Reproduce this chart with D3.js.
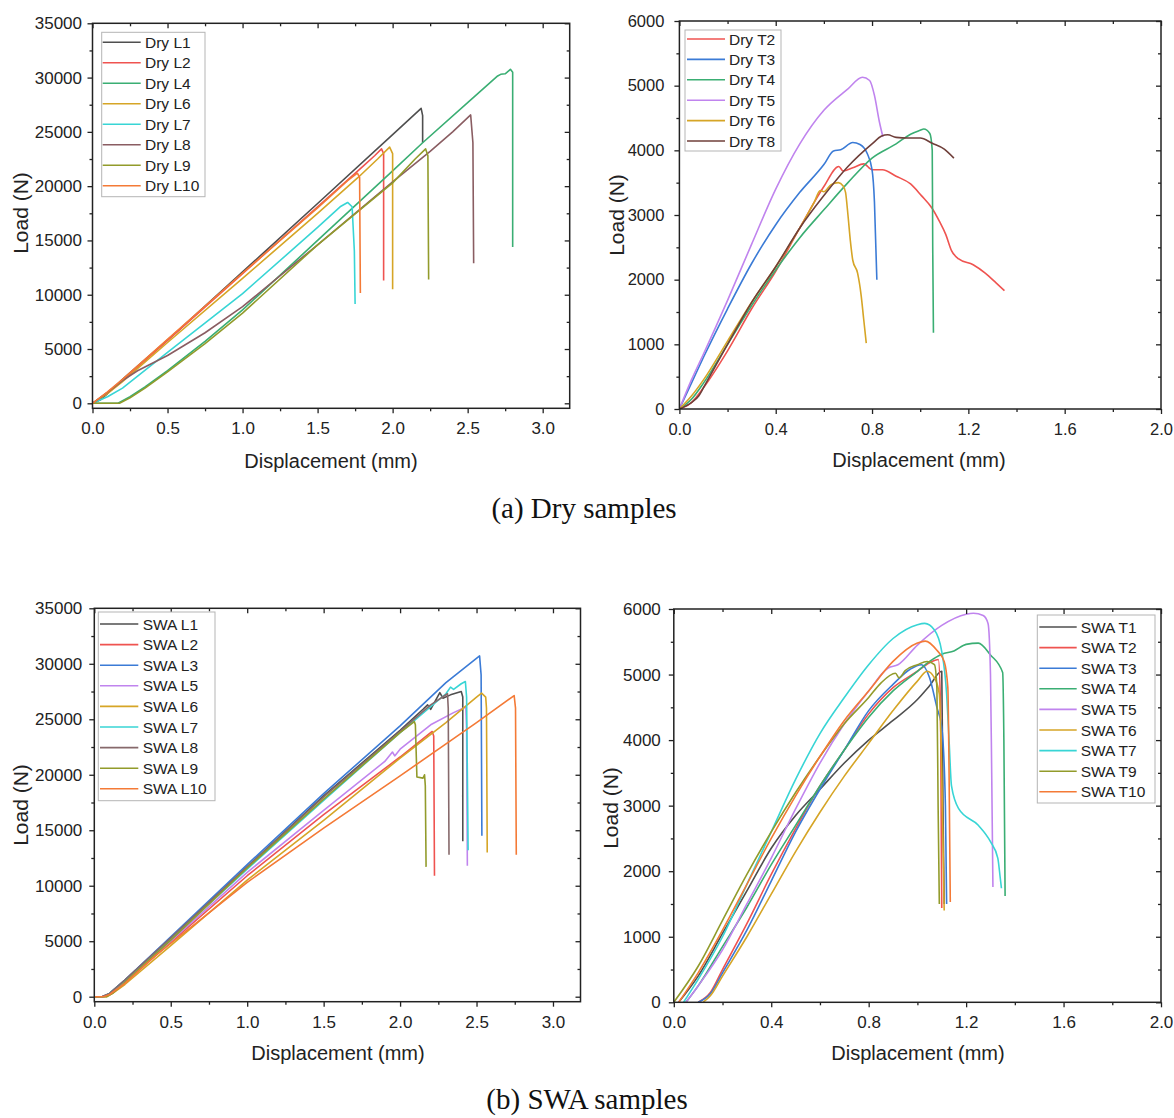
<!DOCTYPE html>
<html><head><meta charset="utf-8">
<script src="https://cdn.jsdelivr.net/npm/d3@7"></script>
<style>body{margin:0;background:#fff}svg{display:block}</style>
</head><body>
<svg id="c" width="1174" height="1118"></svg>
<script>
// ---------- tick labels ----------
const xTicksL = [0, 0.5, 1.0, 1.5, 2.0, 2.5, 3.0];
const xMinorL = [0.25, 0.75, 1.25, 1.75, 2.25, 2.75];
const yTicksL = [0, 5000, 10000, 15000, 20000, 25000, 30000, 35000];
const yMinorL = [2500, 7500, 12500, 17500, 22500, 27500, 32500];
const xTicksT = [0, 0.4, 0.8, 1.2, 1.6, 2.0];
const xMinorT = [0.2, 0.6, 1.0, 1.4, 1.8];
const yTicksT = [0, 1000, 2000, 3000, 4000, 5000, 6000];
const yMinorT = [500, 1500, 2500, 3500, 4500, 5500];

// ---------- (a) Dry L : displacement (mm), load (N) ----------
const dryL1 = [[0,0],[0.05,300],[0.1,900],[0.2,2200],[0.58,6800],[1.0,12100],[1.5,18400],[2.0,24750],[2.19,27170],[2.2,26500],[2.2,24000]];
const dryL2 = [[0,0],[0.1,1000],[0.2,2100],[0.5,5800],[1.0,11950],[1.5,18100],[1.8,21800],[1.88,22800],[1.926,23430],[1.94,23000],[1.94,11300]];
const dryL4 = [[0,0],[0.17,0],[0.25,600],[0.35,1500],[0.5,3000],[0.75,5700],[1.0,8600],[1.5,15000],[2.0,21400],[2.2,24000],[2.5,27700],[2.7,30150],[2.72,30300],[2.75,30350],[2.785,30760],[2.8,30500],[2.8,14400]];
const dryL6 = [[0,0],[0.1,900],[0.2,2000],[0.5,5600],[1.0,11500],[1.5,17500],[1.77,20800],[1.9,22500],[1.98,23600],[2.0,23000],[2.0,10500]];
const dryL7 = [[0,0],[0.1,600],[0.2,1400],[0.5,4700],[1.0,10100],[1.5,16200],[1.65,18100],[1.70,18500],[1.73,18100],[1.745,14000],[1.75,9150]];
const dryL8 = [[0,0],[0.1,1000],[0.2,2100],[0.3,3000],[0.5,4400],[0.75,6500],[1.0,8900],[1.5,14600],[2.0,20400],[2.25,23200],[2.4,25000],[2.52,26560],[2.535,24000],[2.54,12900]];
const dryL9 = [[0,0],[0.18,0],[0.25,500],[0.35,1400],[0.5,2900],[0.75,5500],[1.0,8300],[1.5,14600],[2.0,20300],[2.15,22500],[2.22,23430],[2.235,22800],[2.24,11400]];
const dryL10 = [[0,0],[0.1,1050],[0.2,2200],[0.5,5900],[1.0,12000],[1.5,18000],[1.7,20500],[1.765,21190],[1.78,20800],[1.785,10150]];

// ---------- (a) Dry T ----------
const dryT2 = [[0,0],[0.05,100],[0.1,330],[0.2,900],[0.3,1550],[0.4,2130],[0.5,2800],[0.6,3440],[0.662,3750],[0.68,3680],[0.72,3730],[0.766,3790],[0.8,3700],[0.843,3700],[0.9,3600],[0.96,3480],[1.005,3300],[1.05,3100],[1.08,2900],[1.106,2700],[1.13,2450],[1.16,2320],[1.22,2230],[1.27,2100],[1.315,1950],[1.35,1830]];
const dryT3 = [[0,0],[0.05,400],[0.1,800],[0.2,1550],[0.3,2250],[0.4,2850],[0.5,3350],[0.6,3780],[0.64,3990],[0.67,4010],[0.72,4120],[0.75,4090],[0.78,3950],[0.8,3700],[0.81,3200],[0.82,2000]];
const dryT4 = [[0,0],[0.05,150],[0.1,400],[0.2,1000],[0.3,1600],[0.4,2150],[0.5,2650],[0.6,3080],[0.7,3500],[0.8,3880],[0.9,4100],[0.96,4250],[1.0,4310],[1.015,4330],[1.04,4260],[1.05,4000],[1.052,2500],[1.055,1180]];
const dryT5 = [[0,0],[0.05,450],[0.1,850],[0.2,1680],[0.3,2550],[0.4,3400],[0.5,4100],[0.6,4620],[0.7,4950],[0.76,5130],[0.79,5080],[0.81,4850],[0.83,4450],[0.845,4210]];
const dryT6 = [[0,0],[0.05,200],[0.1,450],[0.2,1050],[0.3,1650],[0.4,2200],[0.5,2800],[0.56,3200],[0.585,3380],[0.6,3360],[0.63,3470],[0.66,3500],[0.68,3450],[0.69,3350],[0.7,3000],[0.71,2600],[0.72,2300],[0.74,2100],[0.755,1750],[0.765,1400],[0.776,1020]];
const dryT8 = [[0,0],[0.05,100],[0.08,200],[0.1,330],[0.2,1000],[0.3,1650],[0.4,2200],[0.5,2800],[0.6,3300],[0.7,3750],[0.8,4100],[0.84,4220],[0.865,4240],[0.9,4200],[0.95,4190],[1.0,4190],[1.05,4110],[1.1,4020],[1.14,3880]];

// ---------- (b) SWA L ----------
const swaL1 = [[0,0],[0.05,0],[0.1,300],[0.2,1500],[0.5,5300],[1.0,11700],[1.5,18100],[2.0,24000],[2.15,25900],[2.18,26300],[2.2,25900],[2.26,27400],[2.28,26900],[2.33,27200],[2.4,27500],[2.41,27000],[2.41,14000]];
const swaL2 = [[0,0],[0.05,0],[0.1,250],[0.2,1300],[0.5,4900],[1.0,10900],[1.5,16400],[2.0,21600],[2.21,23900],[2.22,23500],[2.225,10900]];
const swaL3 = [[0,0],[0.06,0],[0.1,300],[0.2,1500],[0.5,5400],[1.0,11900],[1.5,18300],[2.0,24400],[2.3,28300],[2.52,30710],[2.53,29000],[2.535,14500]];
const swaL5 = [[0,0],[0.06,0],[0.1,250],[0.2,1350],[0.5,5000],[1.0,11200],[1.5,16800],[1.9,21200],[1.95,22050],[1.965,21700],[2.0,22300],[2.2,24500],[2.35,25600],[2.43,26100],[2.435,24000],[2.44,11800]];
const swaL6 = [[0,0],[0.08,0],[0.12,300],[0.2,1100],[0.5,4600],[1.0,10500],[1.5,15900],[2.0,21500],[2.3,24700],[2.5,27000],[2.533,27350],[2.56,27000],[2.565,26000],[2.57,13000]];
const swaL7 = [[0,0],[0.06,0],[0.1,300],[0.2,1450],[0.5,5200],[1.0,11500],[1.5,17700],[2.0,23800],[2.3,27300],[2.33,27900],[2.35,27700],[2.4,28200],[2.427,28400],[2.435,27000],[2.445,13200]];
const swaL8 = [[0,0],[0.05,0],[0.1,300],[0.2,1500],[0.5,5300],[1.0,11700],[1.5,18000],[2.0,23900],[2.2,26300],[2.31,27300],[2.315,26000],[2.32,12800]];
const swaL9 = [[0,0],[0.08,0],[0.12,300],[0.2,1300],[0.5,5100],[1.0,11600],[1.5,17800],[2.0,23800],[2.093,24790],[2.1,24500],[2.11,19800],[2.15,19700],[2.16,20000],[2.165,19000],[2.17,11700]];
const swaL10 = [[0,0],[0.06,0],[0.1,200],[0.2,1200],[0.4,3700],[0.5,4800],[1.0,10300],[1.5,15200],[2.0,19900],[2.5,24700],[2.746,27140],[2.755,26000],[2.76,12800]];

// ---------- (b) SWA T ----------
const swaT1 = [[0.02,0],[0.1,400],[0.2,1050],[0.3,1700],[0.4,2350],[0.5,2850],[0.6,3250],[0.7,3650],[0.8,4000],[0.9,4300],[1.0,4620],[1.05,4830],[1.1,5050],[1.105,3000],[1.11,1500]];
const swaT2 = [[0.1,0],[0.15,150],[0.2,500],[0.3,1200],[0.4,1950],[0.5,2650],[0.6,3300],[0.7,3850],[0.8,4400],[0.9,4800],[1.0,5050],[1.05,5180],[1.086,5230],[1.095,4500],[1.1,1440]];
const swaT3 = [[0.1,0],[0.15,130],[0.2,450],[0.3,1100],[0.4,1850],[0.5,2600],[0.6,3250],[0.7,3850],[0.8,4450],[0.9,4850],[0.97,5080],[1.017,5150],[1.05,4950],[1.08,4500],[1.1,4200],[1.115,3000],[1.12,1500]];
const swaT4 = [[0.05,0],[0.1,250],[0.2,850],[0.3,1450],[0.4,2100],[0.5,2700],[0.6,3300],[0.7,3850],[0.8,4350],[0.9,4750],[1.0,5050],[1.05,5200],[1.1,5310],[1.15,5360],[1.2,5460],[1.25,5480],[1.3,5300],[1.35,5030],[1.355,4000],[1.36,1620]];
const swaT5 = [[0.05,0],[0.1,250],[0.2,800],[0.3,1500],[0.4,2200],[0.5,2950],[0.6,3650],[0.7,4250],[0.8,4750],[0.88,5100],[0.92,5150],[1.0,5450],[1.1,5750],[1.2,5920],[1.23,5935],[1.27,5900],[1.29,5780],[1.3,5000],[1.305,3500],[1.31,1760]];
const swaT6 = [[0.12,0],[0.15,100],[0.2,400],[0.3,1000],[0.4,1650],[0.5,2300],[0.6,2900],[0.7,3450],[0.8,3950],[0.9,4450],[1.0,4900],[1.04,5050],[1.07,4950],[1.09,4700],[1.1,3500],[1.11,1400]];
const swaT7 = [[0.04,0],[0.1,350],[0.2,1000],[0.3,1800],[0.4,2600],[0.5,3400],[0.6,4100],[0.7,4650],[0.8,5150],[0.9,5550],[1.0,5760],[1.03,5780],[1.07,5680],[1.1,5350],[1.12,4700],[1.13,4000],[1.14,3300],[1.17,2950],[1.25,2700],[1.3,2450],[1.33,2200],[1.34,1900],[1.345,1740]];
const swaT9 = [[0,0],[0.1,550],[0.2,1250],[0.3,1950],[0.4,2600],[0.5,3200],[0.6,3750],[0.7,4250],[0.8,4650],[0.85,4870],[0.91,5020],[0.925,4950],[0.95,5060],[1.0,5150],[1.04,5200],[1.07,5150],[1.08,4800],[1.085,3000],[1.09,1500]];
const swaT10 = [[0.02,0],[0.1,450],[0.2,1100],[0.3,1800],[0.4,2500],[0.5,3150],[0.6,3750],[0.7,4300],[0.8,4750],[0.9,5200],[1.0,5480],[1.032,5510],[1.08,5370],[1.11,5200],[1.125,4800],[1.13,3500],[1.135,1530]];

// ---------- series names ----------
const namesDryL = ["Dry L1","Dry L2","Dry L4","Dry L6","Dry L7","Dry L8","Dry L9","Dry L10"];
const namesDryT = ["Dry T2","Dry T3","Dry T4","Dry T5","Dry T6","Dry T8"];
const namesSwaL = ["SWA L1","SWA L2","SWA L3","SWA L5","SWA L6","SWA L7","SWA L8","SWA L9","SWA L10"];
const namesSwaT = ["SWA T1","SWA T2","SWA T3","SWA T4","SWA T5","SWA T6","SWA T7","SWA T9","SWA T10"];

// ---------- styles ----------
const C = {gray:"#4f4f4f", red:"#ef5350", green:"#3aae73", blue:"#3b7bd6", violet:"#c084ee", gold:"#d6a526", cyan:"#38d5d5", olive:"#929b2b", orange:"#f47a36"};
const colDryL = [C.gray, C.red, C.green, C.gold, C.cyan, "#8a5d62", C.olive, C.orange];
const colDryT = [C.red, C.blue, C.green, C.violet, C.gold, "#6f3f3a"];
const colSwaL = [C.gray, C.red, C.blue, C.violet, C.gold, C.cyan, "#86696b", C.olive, C.orange];
const colSwaT = [C.gray, C.red, C.blue, C.green, C.violet, C.gold, C.cyan, C.olive, C.orange];

const panels = [
  {id:"a1", box:{l:92.5,r:569.7,t:23.3,b:408.3}, xDom:[0,3.18], yDom:[-460,35000],
   xT:xTicksL, xM:xMinorL, yT:yTicksL, yM:yMinorL, xf:d3.format(".1f"), smooth:false,
   data:[dryL1,dryL2,dryL4,dryL6,dryL7,dryL8,dryL9,dryL10], names:namesDryL, cols:colDryL,
   fs:17, padY:5.5, yl:[20,213], xl:[331,461],
   leg:{l:101.7,r:205,t:32.3,b:196.7,y0:42.3,dy:20.5,x1:102.7,x2:140.7,tx:145}},
  {id:"a2", box:{l:679.4,r:1161,t:21,b:409}, xDom:[0,2.0], yDom:[0,6000],
   xT:xTicksT, xM:xMinorT, yT:yTicksT, yM:yMinorT, xf:d3.format(".1f"), smooth:true,
   data:[dryT2,dryT3,dryT4,dryT5,dryT6,dryT8], names:namesDryT, cols:colDryT,
   fs:16.5, padY:10, yl:[616,215], xl:[919,460],
   leg:{l:685,r:781,t:30,b:151,y0:39,dy:20.4,x1:687,x2:725,tx:729}},
  {id:"b1", box:{l:94.3,r:580.5,t:608.3,b:1001.7}, xDom:[0,3.18], yDom:[-450,35000],
   xT:xTicksL, xM:xMinorL, yT:yTicksL, yM:yMinorL, xf:d3.format(".1f"), smooth:false,
   data:[swaL1,swaL2,swaL3,swaL5,swaL6,swaL7,swaL8,swaL9,swaL10], names:namesSwaL, cols:colSwaL,
   fs:17, padY:7, yl:[20,805], xl:[338,1053],
   leg:{l:98.3,r:215,t:612,b:800.7,y0:624,dy:20.6,x1:100,x2:138.3,tx:142.7}},
  {id:"b2", box:{l:673.8,r:1161,t:609,b:1002.3}, xDom:[0,2.0], yDom:[0,6000],
   xT:xTicksT, xM:xMinorT, yT:yTicksT, yM:yMinorT, xf:d3.format(".1f"), smooth:true,
   data:[swaT1,swaT2,swaT3,swaT4,swaT5,swaT6,swaT7,swaT9,swaT10], names:namesSwaT, cols:colSwaT,
   fs:17, padY:8, yl:[610,808], xl:[918,1053],
   leg:{l:1037.3,r:1155,t:615,b:803,y0:627,dy:20.6,x1:1039.3,x2:1076.7,tx:1080.7}}
];

const captions = [{text:"(a) Dry samples", x:584, y:518}, {text:"(b) SWA samples", x:587, y:1109}];

const svg = d3.select("#c");
const FONT = "'Liberation Sans', Arial, sans-serif";
const defs = svg.append("defs");

panels.forEach(p => {
  const x = d3.scaleLinear().domain(p.xDom).range([p.box.l, p.box.r]);
  const y = d3.scaleLinear().domain(p.yDom).range([p.box.b, p.box.t]);
  const g = svg.append("g");
  defs.append("clipPath").attr("id","clip-"+p.id).append("rect")
    .attr("x",p.box.l).attr("y",p.box.t).attr("width",p.box.r-p.box.l).attr("height",p.box.b-p.box.t);

  const line = d3.line().x(d=>x(d[0])).y(d=>y(d[1])).curve(p.smooth ? d3.curveMonotoneX : d3.curveLinear);
  const lg = g.append("g").attr("clip-path","url(#clip-"+p.id+")");
  p.data.forEach((s,i)=>{
    lg.append("path").datum(s).attr("d",line).attr("fill","none")
      .attr("stroke",p.cols[i]).attr("stroke-width",1.6).attr("stroke-linejoin","round");
  });

  const style = sel => { sel.select(".domain").remove(); sel.selectAll("line").attr("stroke","#222").attr("stroke-width",1.3);
    sel.attr("font-family",FONT).attr("font-size",p.fs).selectAll("text").attr("fill","#222"); };

  g.append("g").attr("transform",`translate(0,${p.box.b})`)
    .call(d3.axisBottom(x).tickValues(p.xT).tickFormat(p.xf).tickSize(5).tickPadding(9)).call(style);
  g.append("g").attr("transform",`translate(0,${p.box.b})`)
    .call(d3.axisBottom(x).tickValues(p.xM).tickFormat("").tickSize(3)).call(style);
  g.append("g").attr("transform",`translate(${p.box.l},0)`)
    .call(d3.axisLeft(y).tickValues(p.yT).tickFormat(d3.format("d")).tickSize(5).tickPadding(p.padY)).call(style);
  g.append("g").attr("transform",`translate(${p.box.l},0)`)
    .call(d3.axisLeft(y).tickValues(p.yM).tickFormat("").tickSize(3)).call(style);
  g.append("g").attr("transform",`translate(0,${p.box.t})`)
    .call(d3.axisBottom(x).tickValues(p.xT).tickFormat("").tickSize(5)).call(style);
  g.append("g").attr("transform",`translate(0,${p.box.t})`)
    .call(d3.axisBottom(x).tickValues(p.xM).tickFormat("").tickSize(3)).call(style);
  g.append("g").attr("transform",`translate(${p.box.r},0)`)
    .call(d3.axisLeft(y).tickValues(p.yT).tickFormat("").tickSize(5)).call(style);
  g.append("g").attr("transform",`translate(${p.box.r},0)`)
    .call(d3.axisLeft(y).tickValues(p.yM).tickFormat("").tickSize(3)).call(style);

  g.append("rect").attr("x",p.box.l).attr("y",p.box.t).attr("width",p.box.r-p.box.l).attr("height",p.box.b-p.box.t)
    .attr("fill","none").attr("stroke","#222").attr("stroke-width",1.5);

  g.append("text").attr("x",p.xl[0]).attr("y",p.xl[1]).attr("text-anchor","middle").attr("dominant-baseline","central")
    .attr("font-family",FONT).attr("font-size",20).attr("fill","#222").text("Displacement (mm)");
  g.append("text").attr("transform",`translate(${p.yl[0]},${p.yl[1]}) rotate(-90)`).attr("text-anchor","middle")
    .attr("dominant-baseline","central").attr("font-family",FONT).attr("font-size",21).attr("fill","#222").text("Load (N)");

  const L = p.leg;
  const leg = g.append("g");
  leg.append("rect").attr("x",L.l).attr("y",L.t).attr("width",L.r-L.l).attr("height",L.b-L.t)
    .attr("fill","#fff").attr("stroke","#b5b5b5").attr("stroke-width",1);
  p.names.forEach((n,i)=>{
    const yy = L.y0 + i*L.dy;
    leg.append("line").attr("x1",L.x1).attr("x2",L.x2).attr("y1",yy).attr("y2",yy)
      .attr("stroke",p.cols[i]).attr("stroke-width",1.6);
    leg.append("text").attr("x",L.tx).attr("y",yy).attr("dominant-baseline","central")
      .attr("font-family",FONT).attr("font-size",15.5).attr("fill","#222").text(n);
  });
});

captions.forEach(c=>{
  svg.append("text").attr("x",c.x).attr("y",c.y).attr("text-anchor","middle")
    .attr("font-family","'Liberation Serif', 'Times New Roman', serif").attr("font-size",29).attr("fill","#111").text(c.text);
});
</script>
</body></html>
